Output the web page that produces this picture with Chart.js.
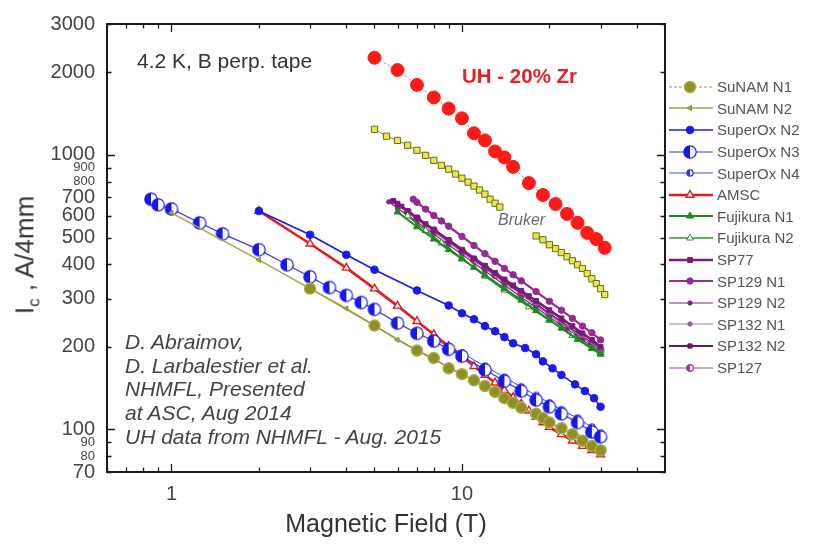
<!DOCTYPE html>
<html>
<head>
<meta charset="utf-8">
<script src="https://cdn.jsdelivr.net/npm/chart.js@4.4.0/dist/chart.umd.min.js"></script>
<style>
  body { margin: 0; background: #fff; font-family: "Liberation Sans", Arial, sans-serif; }
  #wrap { position: relative; width: 813px; height: 546px; overflow: hidden; }
  #chart { position: absolute; left: 0; top: 0; }
  .note { position: absolute; white-space: nowrap; color: #333; }
  #ytitle { left: 27px; top: 255px; font-size: 26px; transform: translate(-50%, -50%) rotate(-90deg); }
  #ytitle sub { font-size: 17px; }
  #legend { position: absolute; left: 668px; top: 76px; }
  .row { height: 21.6px; display: flex; align-items: center; font-size: 15px; color: #555; }
  .row canvas { margin-right: 3px; }
</style>
</head>
<body>
<div id="wrap">
  <canvas id="chart" width="813" height="546"></canvas>
  <div class="note" id="ytitle">I<sub>c</sub> , A/4mm</div>
  <div class="note" style="left:137px; top:49px; font-size:21px;">4.2 K, B perp. tape</div>
  <div class="note" style="left:462px; top:64px; font-size:20.5px; font-weight:bold; color:#e8202a;">UH - 20% Zr</div>
  <div class="note" style="left:498px; top:211px; font-size:16px; font-style:italic; color:#6a6a78;">Bruker</div>
  <div class="note" style="left:125px; top:330px; font-size:21px; font-style:italic; line-height:23.7px; color:#444;">
    D. Abraimov,<br>D. Larbalestier et al.<br>NHMFL, Presented<br>at ASC, Aug 2014<br>UH data from NHMFL - Aug. 2015
  </div>
  <div id="legend"></div>
</div>
<script>
const FONT = '"Liberation Sans", Arial, sans-serif';

// axis ticks
const xLabelTicks = [1, 10];
const xTickMarks = [0.6, 0.7, 0.8, 0.9, 1, 2, 3, 4, 5, 6, 7, 8, 9, 10, 20, 30, 40];
const xMajorTicks = [1, 10];
const yLabelTicks = [70, 80, 90, 100, 200, 300, 400, 500, 600, 700, 800, 900, 1000, 2000, 3000];
const yMajorTicks = [100, 1000];
const ySquashedLabels = [80, 90, 800, 900];

// UH - 20% Zr
const uhB = [5, 6, 7, 8, 9, 10, 11, 12, 13, 14, 15, 17, 19, 21, 23, 25, 27, 29, 31];
const uhIc = [2260, 2040, 1800, 1620, 1475, 1360, 1200, 1130, 1030, 980, 905, 790, 715, 663, 610, 566, 520, 494, 459];

// Bruker (two runs)
const brukerLowB = [5, 5.5, 6, 6.5, 7, 7.5, 8, 8.5, 9, 9.5, 10, 10.5, 11, 11.5, 12, 12.5, 13, 13.5];
const brukerLowIc = [1240, 1170, 1130, 1085, 1040, 997, 956, 917, 888, 852, 823, 796, 770, 745, 720, 690, 667, 646];
const brukerHighB = [18, 19, 20, 21, 22, 23, 24, 25, 26, 27, 28, 29, 30, 31];
const brukerHighIc = [507, 491, 471, 456, 441, 426, 412, 398, 386, 370, 354, 340, 326, 310];

// SuNAM
const sunam1B = [3, 5, 7, 8, 9, 10, 11, 12, 13, 14, 15, 16, 18, 19, 20, 22, 24, 26, 28, 30];
const sunam1Ic = [326, 239, 194, 182, 167, 159, 151, 144, 137, 130, 125, 120, 114, 110, 106, 101, 96, 91, 87, 84];
const sunam2B = [1, 2, 3, 4, 5, 6, 7, 8, 10, 12, 14, 16, 18, 20, 22, 25, 28, 30];
const sunam2Ic = [615, 415, 326, 276, 239, 212, 194, 180, 159, 144, 130, 120, 113, 106, 101, 94, 87, 84];

// SuperOx
const sox2B = [2, 3, 4, 5, 7, 9, 10, 11, 12, 13, 14, 15, 16.5, 18, 19, 20.5, 22, 24.5, 26.5, 28.5, 30];
const sox2Ic = [625, 512, 433, 382, 321, 283, 265, 252, 238, 228, 217, 206, 198, 188, 177, 167, 158, 146, 138, 130, 121];
const sox3B = [0.85, 0.9, 1, 1.25, 1.5, 2, 2.5, 3, 3.5, 4, 4.5, 5, 6, 7, 8, 9, 10, 12, 14, 16, 18, 20, 22, 25, 28, 30];
const sox3Ic = [690, 658, 636, 566, 516, 452, 398, 360, 329, 308, 290, 274, 244, 224, 210, 196, 185, 165, 150, 138, 128, 121, 114, 106, 98, 94];
const sox4B = [8, 9, 10, 12, 14, 16, 18, 20, 22, 25, 28, 30];
const sox4Ic = [215, 200, 190, 170, 155, 143, 133, 125, 118, 110, 102, 97];

// AMSC
const amscB = [2, 3, 4, 5, 6, 7, 8, 9, 10, 11, 12, 13, 14, 15, 16, 17, 18, 19, 20, 22, 24, 26, 28, 30];
const amscIc = [625, 475, 388, 326, 282, 248, 222, 201, 185, 170, 158, 148, 139, 131, 124, 117, 111, 106, 102, 96, 91, 87, 84, 81];

// Fujikura
const fuji1B = [6, 7, 8, 9, 10, 11, 12, 14, 16, 18, 20, 22, 25, 28, 30];
const fuji1Ic = [620, 548, 494, 452, 418, 390, 365, 326, 296, 271, 251, 234, 213, 197, 188];
const fuji2B = [6.5, 7.5, 8.5, 10, 12, 14, 17, 20, 24, 28, 30];
const fuji2Ic = [600, 530, 478, 420, 362, 322, 280, 250, 220, 198, 190];

// SP tapes
const sp77B = [5.8, 6, 6.5, 7, 7.5, 8, 9, 10, 11, 12, 13, 14, 15, 16, 17, 18, 20, 22, 24, 26, 28, 30];
const sp77Ic = [680, 665, 625, 590, 560, 535, 490, 452, 420, 395, 372, 352, 335, 320, 306, 294, 272, 254, 238, 224, 212, 200];
const sp129aB = [6.8, 7, 7.5, 8, 8.5, 9, 10, 11, 12, 13, 14, 15, 16, 18, 20, 22, 24, 26, 28, 30];
const sp129aIc = [690, 672, 635, 602, 575, 550, 505, 468, 437, 410, 386, 366, 348, 318, 293, 272, 254, 238, 225, 212];
const sp129bB = [5.6, 6, 7, 8, 9, 10, 12, 14, 16, 18, 20, 23, 26, 30];
const sp129bIc = [675, 640, 570, 515, 470, 435, 378, 336, 303, 278, 257, 232, 212, 192];
const sp132aB = [6, 7, 8, 9, 10, 12, 14, 16, 18, 20, 23, 26, 30];
const sp132aIc = [655, 582, 525, 480, 443, 385, 342, 310, 283, 262, 236, 216, 196];
const sp132bB = [6.2, 7, 8, 9, 10, 12, 14, 16, 18, 20, 22, 25, 28, 30];
const sp132bIc = [650, 590, 530, 485, 447, 390, 346, 313, 286, 264, 246, 224, 206, 197];
const sp127B = [6.5, 7, 8, 9, 10, 11, 12, 13, 14, 16, 18, 20, 22, 25, 28, 30];
const sp127Ic = [620, 588, 530, 484, 446, 414, 388, 365, 346, 312, 286, 264, 246, 223, 205, 194];

function halfCircle(r, color) {
  const c = document.createElement('canvas');
  const s = Math.ceil(2 * r + 3);
  c.width = s; c.height = s;
  const g = c.getContext('2d');
  const m = s / 2;
  g.fillStyle = '#fff';
  g.beginPath(); g.arc(m, m, r, 0, 2 * Math.PI); g.fill();
  g.fillStyle = color;
  g.beginPath(); g.arc(m, m, r, Math.PI / 2, 3 * Math.PI / 2); g.closePath(); g.fill();
  g.strokeStyle = color; g.lineWidth = 1.2;
  g.beginPath(); g.arc(m, m, r, 0, 2 * Math.PI); g.stroke();
  return c;
}

function series(label, xs, ys, style) {
  return Object.assign({
    label: label,
    data: xs.map((x, i) => ({ x: x, y: ys[i] })),
    showLine: true,
    fill: false,
    tension: 0,
    pointBorderWidth: 1,
    pointHoverRadius: 0
  }, style);
}

const datasets = [
  series('UH - 20% Zr', uhB, uhIc, { inLegend: false, borderColor: '#a0a0a0', borderWidth: 1, borderDash: [3, 2],
    pointStyle: 'circle', pointRadius: 6.5, pointBackgroundColor: '#ff1a1a', pointBorderColor: '#ff1a1a' }),
  series('Bruker', brukerLowB, brukerLowIc, { inLegend: false, borderColor: '#8c8c28', borderWidth: 1,
    pointStyle: 'rect', pointRadius: 4.4, pointBackgroundColor: '#e8e84a', pointBorderColor: '#6c6c18' }),
  series('Bruker', brukerHighB, brukerHighIc, { inLegend: false, borderColor: '#8c8c28', borderWidth: 1,
    pointStyle: 'rect', pointRadius: 4.4, pointBackgroundColor: '#e8e84a', pointBorderColor: '#6c6c18' }),
  series('SuNAM N1', sunam1B, sunam1Ic, { borderColor: '#9a9a3a', borderWidth: 1.2, legendDash: [3, 2],
    pointStyle: 'circle', pointRadius: 5.5, pointBackgroundColor: '#8f8f22', pointBorderColor: '#aaaa50', pointBorderWidth: 1.5 }),
  series('SuNAM N2', sunam2B, sunam2Ic, { borderColor: '#a5a545', borderWidth: 1.5,
    pointStyle: 'triangle', pointRotation: 270, pointRadius: 3, pointBackgroundColor: '#a5a545', pointBorderColor: '#8a8a30' }),
  series('SuperOx N2', sox2B, sox2Ic, { borderColor: '#1a1af0', borderWidth: 1.6,
    pointStyle: 'circle', pointRadius: 3.8, pointBackgroundColor: '#1a1af0', pointBorderColor: '#1a1af0' }),
  series('SuperOx N3', sox3B, sox3Ic, { borderColor: '#3a3af0', borderWidth: 1.2,
    pointStyle: halfCircle(6.2, '#1818e8'), pointRadius: 6 }),
  series('SuperOx N4', sox4B, sox4Ic, { borderColor: '#4a4aff', borderWidth: 1,
    pointStyle: halfCircle(3.2, '#3030ff'), pointRadius: 3 }),
  series('AMSC', amscB, amscIc, { borderColor: '#e61a1a', borderWidth: 2.6,
    pointStyle: 'triangle', pointRadius: 4.5, pointBackgroundColor: '#ffffff', pointBorderColor: '#e61a1a', pointBorderWidth: 1.4 }),
  series('Fujikura N1', fuji1B, fuji1Ic, { borderColor: '#1c8a1c', borderWidth: 2,
    pointStyle: 'triangle', pointRadius: 4, pointBackgroundColor: '#1c8a1c', pointBorderColor: '#1c8a1c' }),
  series('Fujikura N2', fuji2B, fuji2Ic, { borderColor: '#2a962a', borderWidth: 1.6,
    pointStyle: 'triangle', pointRadius: 4, pointBackgroundColor: '#ffffff', pointBorderColor: '#2a962a' }),
  series('SP77', sp77B, sp77Ic, { borderColor: '#7c1a7c', borderWidth: 2.6,
    pointStyle: 'rect', pointRadius: 3.4, pointBackgroundColor: '#7c1a7c', pointBorderColor: '#7c1a7c' }),
  series('SP129 N1', sp129aB, sp129aIc, { borderColor: '#952a95', borderWidth: 2.2,
    pointStyle: 'circle', pointRadius: 3.2, pointBackgroundColor: '#952a95', pointBorderColor: '#952a95' }),
  series('SP129 N2', sp129bB, sp129bIc, { borderColor: '#7a2a7a', borderWidth: 1.2,
    pointStyle: 'circle', pointRadius: 2.2, pointBackgroundColor: '#7a2a7a', pointBorderColor: '#7a2a7a' }),
  series('SP132 N1', sp132aB, sp132aIc, { borderColor: '#b070b0', borderWidth: 1.2,
    pointStyle: 'circle', pointRadius: 2.2, pointBackgroundColor: '#a060a0', pointBorderColor: '#a060a0' }),
  series('SP132 N2', sp132bB, sp132bIc, { borderColor: '#6e146e', borderWidth: 2,
    pointStyle: 'rect', pointRadius: 3, pointBackgroundColor: '#6e146e', pointBorderColor: '#6e146e' }),
  series('SP127', sp127B, sp127Ic, { borderColor: '#a048a8', borderWidth: 1.2,
    pointStyle: halfCircle(3.4, '#9a3aa0'), pointRadius: 3 })
];

// frame and inward tick marks on all four sides
const framePlugin = {
  id: 'frame',
  afterDatasetsDraw(chart) {
    const { ctx, chartArea: a, scales: { x, y } } = chart;
    ctx.save();
    ctx.strokeStyle = '#1a1a1a';
    ctx.lineWidth = 1.3;
    ctx.beginPath();
    xTickMarks.forEach(v => {
      const px = Math.round(x.getPixelForValue(v)) + 0.5;
      const len = xMajorTicks.includes(v) ? 8 : 4.5;
      ctx.moveTo(px, a.bottom); ctx.lineTo(px, a.bottom - len);
      ctx.moveTo(px, a.top); ctx.lineTo(px, a.top + len);
    });
    yLabelTicks.forEach(v => {
      const py = Math.round(y.getPixelForValue(v)) + 0.5;
      const len = yMajorTicks.includes(v) ? 8 : 4.5;
      ctx.moveTo(a.left, py); ctx.lineTo(a.left + len, py);
      ctx.moveTo(a.right, py); ctx.lineTo(a.right - len, py);
    });
    ctx.stroke();
    ctx.lineWidth = 2;
    ctx.strokeRect(a.left, a.top, a.right - a.left, a.bottom - a.top);
    ctx.restore();
  }
};

new Chart(document.getElementById('chart').getContext('2d'), {
  type: 'scatter',
  data: { datasets: datasets },
  options: {
    responsive: false,
    animation: false,
    events: [],
    layout: { padding: { left: 0, right: 148, top: 21, bottom: 0 } },
    plugins: { legend: { display: false }, tooltip: { enabled: false } },
    scales: {
      x: {
        type: 'logarithmic',
        min: 0.6,
        max: 50,
        afterBuildTicks: s => { s.ticks = xLabelTicks.map(v => ({ value: v })); },
        afterFit: s => { s.height = 74; },
        grid: { display: false, drawTicks: false },
        border: { display: false },
        ticks: {
          autoSkip: false, maxRotation: 0, padding: 10,
          font: { family: FONT, size: 20 }, color: '#444',
          callback: v => String(v)
        },
        title: {
          display: true, text: 'Magnetic Field (T)', color: '#333',
          font: { family: FONT, size: 25 }, padding: { top: 0, bottom: 6 }
        }
      },
      y: {
        type: 'logarithmic',
        min: 70,
        max: 3000,
        afterBuildTicks: s => { s.ticks = yLabelTicks.map(v => ({ value: v })); },
        afterFit: s => { s.width = 107; },
        grid: { display: false, drawTicks: false },
        border: { display: false },
        ticks: {
          autoSkip: false, padding: 12, color: '#444',
          font: c => ({ family: FONT, size: ySquashedLabels.includes(c.tick && c.tick.value) ? 13 : 20 }),
          callback: v => String(v)
        }
      }
    }
  },
  plugins: [framePlugin]
});

// legend: line + marker, real text labels
function drawMarker(g, ds, x, y) {
  const ps = ds.pointStyle, r = ds.pointRadius;
  if (ps instanceof HTMLCanvasElement) { g.drawImage(ps, x - ps.width / 2, y - ps.height / 2); return; }
  g.fillStyle = ds.pointBackgroundColor;
  g.strokeStyle = ds.pointBorderColor;
  g.lineWidth = ds.pointBorderWidth || 1;
  g.beginPath();
  if (ps === 'circle') {
    g.arc(x, y, r, 0, 2 * Math.PI);
  } else if (ps === 'rect') {
    const s = r * Math.SQRT1_2;
    g.rect(x - s, y - s, 2 * s, 2 * s);
  } else if (ps === 'triangle') {
    let rad = (ds.pointRotation || 0) * Math.PI / 180;
    for (let k = 0; k < 3; k++) {
      const px = x + Math.sin(rad) * r, py = y - Math.cos(rad) * r;
      if (k === 0) g.moveTo(px, py); else g.lineTo(px, py);
      rad += 2 * Math.PI / 3;
    }
    g.closePath();
  }
  g.fill();
  g.stroke();
}

const legendBox = document.getElementById('legend');
datasets.filter(ds => ds.inLegend !== false).forEach(ds => {
  const row = document.createElement('div');
  row.className = 'row';
  const c = document.createElement('canvas');
  c.width = 46; c.height = 20;
  const g = c.getContext('2d');
  g.strokeStyle = ds.borderColor;
  g.lineWidth = ds.borderWidth;
  g.setLineDash(ds.legendDash || []);
  g.beginPath(); g.moveTo(1, 10); g.lineTo(45, 10); g.stroke();
  g.setLineDash([]);
  drawMarker(g, ds, 22, 10);
  const t = document.createElement('span');
  t.textContent = ds.label;
  row.appendChild(c);
  row.appendChild(t);
  legendBox.appendChild(row);
});
</script>
</body>
</html>
